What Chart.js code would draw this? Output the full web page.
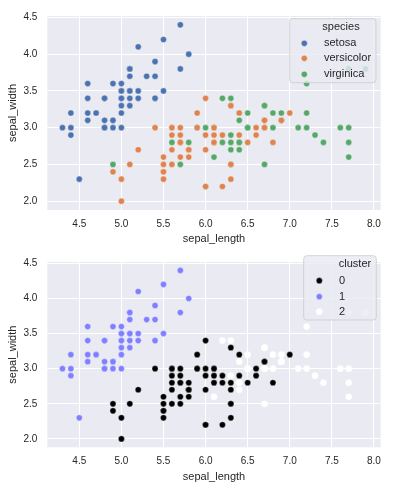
<!DOCTYPE html>
<html>
<head>
<meta charset="utf-8">
<script src="https://cdn.jsdelivr.net/npm/chart.js@4"></script>
<style>
  body { margin: 0; background: #fff; }
  #wrap { position: relative; width: 394px; height: 488px; }
  canvas { position: absolute; left: 0; }
</style>
</head>
<body>
<div id="wrap">
  <canvas id="top" width="394" height="246" style="top:0"></canvas>
  <canvas id="bottom" width="394" height="242" style="top:246px"></canvas>
</div>
<script>
// iris: sepal_length / sepal_width, 150 rows
const sepalLength = [
  5.1,4.9,4.7,4.6,5.0,5.4,4.6,5.0,4.4,4.9,5.4,4.8,4.8,4.3,5.8,5.7,5.4,5.1,5.7,5.1,
  5.4,5.1,4.6,5.1,4.8,5.0,5.0,5.2,5.2,4.7,4.8,5.4,5.2,5.5,4.9,5.0,5.5,4.9,4.4,5.1,
  5.0,4.5,4.4,5.0,5.1,4.8,5.1,4.6,5.3,5.0,
  7.0,6.4,6.9,5.5,6.5,5.7,6.3,4.9,6.6,5.2,5.0,5.9,6.0,6.1,5.6,6.7,5.6,5.8,6.2,5.6,
  5.9,6.1,6.3,6.1,6.4,6.6,6.8,6.7,6.0,5.7,5.5,5.5,5.8,6.0,5.4,6.0,6.7,6.3,5.6,5.5,
  5.5,6.1,5.8,5.0,5.6,5.7,5.7,6.2,5.1,5.7,
  6.3,5.8,7.1,6.3,6.5,7.6,4.9,7.3,6.7,7.2,6.5,6.4,6.8,5.7,5.8,6.4,6.5,7.7,7.7,6.0,
  6.9,5.6,7.7,6.3,6.7,7.2,6.2,6.1,6.4,7.2,7.4,7.9,6.4,6.3,6.1,7.7,6.3,6.4,6.0,6.9,
  6.7,6.9,5.8,6.8,6.7,6.7,6.3,6.5,6.2,5.9
];
const sepalWidth = [
  3.5,3.0,3.2,3.1,3.6,3.9,3.4,3.4,2.9,3.1,3.7,3.4,3.0,3.0,4.0,4.4,3.9,3.5,3.8,3.8,
  3.4,3.7,3.6,3.3,3.4,3.0,3.4,3.5,3.4,3.2,3.1,3.4,4.1,4.2,3.1,3.2,3.5,3.6,3.0,3.4,
  3.5,2.3,3.2,3.5,3.8,3.0,3.8,3.2,3.7,3.3,
  3.2,3.2,3.1,2.3,2.8,2.8,3.3,2.4,2.9,2.7,2.0,3.0,2.2,2.9,2.9,3.1,3.0,2.7,2.2,2.5,
  3.2,2.8,2.5,2.8,2.9,3.0,2.8,3.0,2.9,2.6,2.4,2.4,2.7,2.7,3.0,3.4,3.1,2.3,3.0,2.5,
  2.6,3.0,2.6,2.3,2.7,3.0,2.9,2.9,2.5,2.8,
  3.3,2.7,3.0,2.9,3.0,3.0,2.5,2.9,2.5,3.6,3.2,2.7,3.0,2.5,2.8,3.2,3.0,3.8,2.6,2.2,
  3.2,2.8,2.8,2.7,3.3,3.2,2.8,3.0,2.8,3.0,2.8,3.8,2.8,2.8,2.6,3.0,3.4,3.1,3.0,3.1,
  3.1,3.1,2.7,3.2,3.3,3.0,2.5,3.0,3.4,3.0
];
const speciesNames = ['setosa', 'versicolor', 'virginica'];
const speciesOf = [].concat(Array(50).fill(0), Array(50).fill(1), Array(50).fill(2));
const clusterNames = ['0', '1', '2'];
const clusterOf = [
  1,1,1,1,1,1,1,1,1,1,1,1,1,1,1,1,1,1,1,1,1,1,1,1,1,1,1,1,1,1,1,1,1,1,1,1,1,1,1,1,
  1,1,1,1,1,1,1,1,1,1,
  0,0,2,0,0,0,0,0,0,0,0,0,0,0,0,0,0,0,0,0,0,0,0,0,0,0,0,2,0,0,0,0,0,0,0,0,0,0,0,0,
  0,0,0,0,0,0,0,0,0,0,
  2,0,2,2,2,2,0,2,2,2,2,2,2,0,0,2,2,2,2,0,2,0,2,0,2,2,0,0,2,2,2,2,2,0,2,2,2,2,0,2,
  2,2,0,2,2,2,0,2,2,0
];
const xTicks = [4.5, 5.0, 5.5, 6.0, 6.5, 7.0, 7.5, 8.0];
const yTicks = [2.0, 2.5, 3.0, 3.5, 4.0, 4.5];

const speciesColors = ['#4c72b0', '#dd8452', '#55a868'];
const clusterColors = ['#000000', '#8080ff', '#ffffff'];

const FONT = "'Liberation Sans', Arial, sans-serif";
const TEXT = '#262626';

function buildDatasets(groupOf, names, colors) {
  return names.map((name, g) => ({
    label: name,
    data: sepalLength.map((x, i) => ({ x: x, y: sepalWidth[i], g: groupOf[i] }))
      .filter(p => p.g === g),
    backgroundColor: colors[g],
    borderColor: '#ffffff',
    borderWidth: 0.4,
    pointRadius: 3.1,
    pointHoverRadius: 3.1
  }));
}

const bgPlugin = {
  id: 'bg',
  beforeDraw(chart) {
    const a = chart.chartArea, ctx = chart.ctx;
    ctx.save();
    ctx.fillStyle = '#eaeaf2';
    ctx.fillRect(a.left, a.top, a.right - a.left, a.bottom - a.top);
    ctx.restore();
  }
};

// seaborn-like legend box inside the axes
const boxLegend = {
  id: 'boxLegend',
  afterDraw(chart, args, opts) {
    const ctx = chart.ctx;
    const b = opts.box;
    ctx.save();
    ctx.beginPath();
    ctx.roundRect(b.x, b.y, b.w, b.h, 3);
    ctx.fillStyle = 'rgba(234,234,242,0.8)';
    ctx.fill();
    ctx.strokeStyle = 'rgba(204,204,204,0.8)';
    ctx.lineWidth = 1;
    ctx.stroke();
    ctx.fillStyle = TEXT;
    ctx.font = '11px ' + FONT;
    ctx.textBaseline = 'middle';
    ctx.textAlign = 'center';
    ctx.fillText(opts.title, opts.titleX, opts.titleY);
    ctx.textAlign = 'left';
    chart.data.datasets.forEach((ds, i) => {
      const y = opts.rowY[i];
      ctx.beginPath();
      ctx.arc(opts.markX, y, 3.1, 0, Math.PI * 2);
      ctx.fillStyle = ds.backgroundColor;
      ctx.fill();
      ctx.strokeStyle = '#ffffff';
      ctx.lineWidth = 0.4;
      ctx.stroke();
      ctx.fillStyle = TEXT;
      ctx.fillText(ds.label, opts.textX, y);
    });
    ctx.restore();
  }
};

function makeChart(id, datasets, padTop, padBottom, legendOpts) {
  return new Chart(document.getElementById(id), {
    type: 'scatter',
    data: { datasets: datasets },
    plugins: [bgPlugin, boxLegend],
    options: {
      responsive: false,
      animation: false,
      events: [],
      layout: { padding: { left: 0, right: 13.3, top: padTop, bottom: padBottom } },
      plugins: {
        legend: { display: false },
        tooltip: { enabled: false },
        boxLegend: legendOpts
      },
      scales: {
        x: {
          type: 'linear',
          min: 4.12,
          max: 8.08,
          afterBuildTicks: s => { s.ticks = xTicks.map(v => ({ value: v })); },
          afterFit: s => { s.height = 36; },
          border: { display: false },
          grid: { color: '#ffffff', lineWidth: 1, drawTicks: false },
          ticks: {
            padding: 8,
            color: TEXT,
            font: { family: FONT, size: 10 },
            callback: v => v.toFixed(1)
          },
          title: {
            display: true,
            text: 'sepal_length',
            color: TEXT,
            font: { family: FONT, size: 11 },
            padding: { top: 0, bottom: 0 }
          }
        },
        y: {
          type: 'linear',
          min: 1.88,
          max: 4.52,
          afterBuildTicks: s => { s.ticks = yTicks.map(v => ({ value: v })); },
          afterFit: s => { s.width = 47.3; },
          border: { display: false },
          grid: { color: '#ffffff', lineWidth: 1, drawTicks: false },
          ticks: {
            padding: 10,
            color: TEXT,
            font: { family: FONT, size: 10 },
            callback: v => v.toFixed(1)
          },
          title: {
            display: true,
            text: 'sepal_width',
            color: TEXT,
            font: { family: FONT, size: 11 },
            padding: { top: 6.4, bottom: 0 }
          }
        }
      }
    }
  });
}

makeChart('top', buildDatasets(speciesOf, speciesNames, speciesColors), 12.8, 0, {
  box: { x: 289.7, y: 18.7, w: 86.3, h: 64 },
  title: 'species', titleX: 341, titleY: 27,
  markX: 304.3, textX: 324, rowY: [43.3, 58.3, 74.3]
});

makeChart('bottom', buildDatasets(clusterOf, clusterNames, clusterColors), 4.8, 4.7, {
  box: { x: 303.7, y: 9.7, w: 72.6, h: 64.3 },
  title: 'cluster', titleX: 355, titleY: 18,
  markX: 319.3, textX: 339, rowY: [34.7, 50.7, 65.7]
});
</script>
</body>
</html>
